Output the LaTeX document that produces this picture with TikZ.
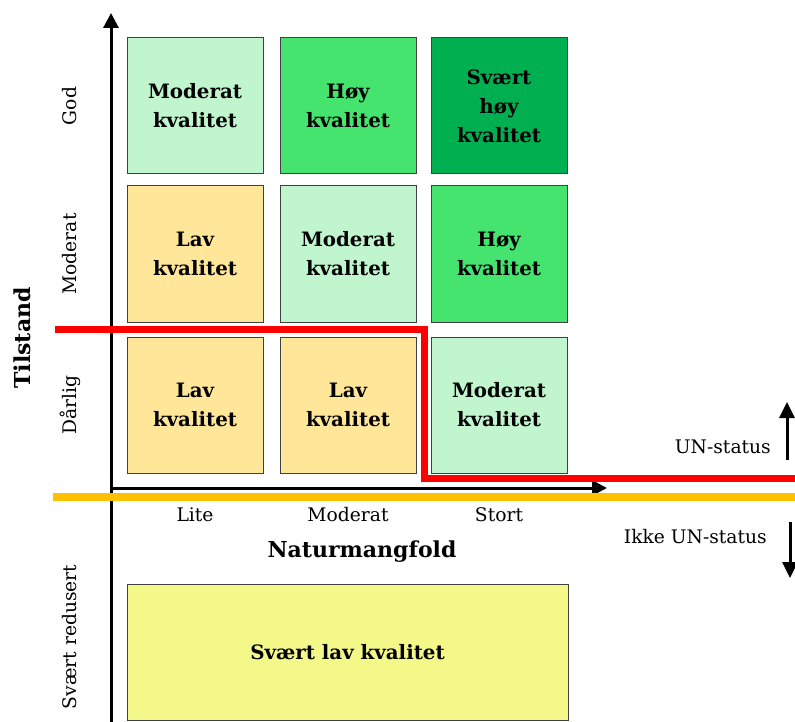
\documentclass[tikz,border=0pt]{standalone}
\usepackage{fontspec}
\setmainfont{DejaVu Serif}
\usetikzlibrary{arrows.meta}
\definecolor{modgreen}{HTML}{C1F5CD}
\definecolor{hoygreen}{HTML}{45E46E}
\definecolor{svhoy}{HTML}{00B050}
\definecolor{lavcol}{HTML}{FFE699}
\definecolor{svlav}{HTML}{F3F889}
\definecolor{unline}{HTML}{FF0000}
\definecolor{ikkeline}{HTML}{FFC000}
\tikzset{
  cell/.style={draw=black!75, line width=1pt, minimum width=136pt, minimum height=136pt,
    inner sep=0pt, align=center, font=\fontsize{19.8}{29}\selectfont\bfseries},
  axis/.style={line width=3pt, -{Triangle[length=15pt,width=15pt]}},
  statusarrow/.style={line width=3pt, -{Triangle[length=16pt,width=15pt]}},
  lbl/.style={font=\fontsize{18.7}{22}\selectfont, inner sep=0pt},
  biglbl/.style={font=\fontsize{22}{26}\selectfont\bfseries, inner sep=0pt},
}
\begin{document}
\begin{tikzpicture}[x=1pt, y=-1pt]
\useasboundingbox (0,0) rectangle (795,722);
% grid of quality cells
\node[cell, fill=modgreen] (c11) at (195,106) {Moderat\\kvalitet};
\node[cell, fill=hoygreen] (c12) at (348,106) {Høy\\kvalitet};
\node[cell, fill=svhoy]    (c13) at (499,106) {Svært\\høy\\kvalitet};
\node[cell, fill=lavcol]   (c21) at (195,254) {Lav\\kvalitet};
\node[cell, fill=modgreen] (c22) at (348,254) {Moderat\\kvalitet};
\node[cell, fill=hoygreen] (c23) at (499,254) {Høy\\kvalitet};
\node[cell, fill=lavcol]   (c31) at (195,405) {Lav\\kvalitet};
\node[cell, fill=lavcol]   (c32) at (348,405) {Lav\\kvalitet};
\node[cell, fill=modgreen] (c33) at (499,405) {Moderat\\kvalitet};
\node[cell, fill=svlav, minimum width=441pt, minimum height=136pt] (c4) at (347.5,652) {Svært lav kvalitet};
% axes
\coordinate (origin) at (111,488);
\coordinate (ytop) at (111,13);
\coordinate (ybot) at (111,724);
\coordinate (xend) at (607,488);
\draw[line width=3pt] (origin) -- (ybot);
\draw[axis] (origin) -- (ytop);
\draw[axis] (origin) -- (xend);
% axis labels
\node[lbl] (xlite) at (195,515) {Lite};
\node[lbl] (xmod) at (348,515) {Moderat};
\node[lbl] (xstort) at (499,515) {Stort};
\node[biglbl] (xtitle) at (362,552) {Naturmangfold};
\node[lbl, rotate=90] (ygod) at (70,106) {God};
\node[lbl, rotate=90] (ymod) at (70,254) {Moderat};
\node[lbl, rotate=90] (ydar) at (70,405) {Dårlig};
\node[lbl, rotate=90] (ysvr) at (70,637) {Svært redusert};
\node[biglbl, rotate=90] (ytitle) at (22,338) {Tilstand};
% status boundaries
\coordinate (r1) at (55,329);
\coordinate (r2) at (424,329);
\coordinate (r3) at (424,478);
\coordinate (r4) at (797,478);
\draw[unline, line width=7pt] (r1) -- (r2) -- (r3) -- (r4);
\coordinate (o1) at (53,497);
\coordinate (o2) at (797,497);
\draw[ikkeline, line width=8pt] (o1) -- (o2);
% status legend
\node[lbl, anchor=east] (un) at (771,447) {UN-status};
\node[lbl, anchor=east] (ikke) at (767,537) {Ikke UN-status};
\coordinate (ua) at (787,460);
\coordinate (ub) at (787,402);
\coordinate (da) at (790,522);
\coordinate (db) at (790,578);
\draw[statusarrow] (ua) -- (ub);
\draw[statusarrow] (da) -- (db);
\end{tikzpicture}
\end{document}
